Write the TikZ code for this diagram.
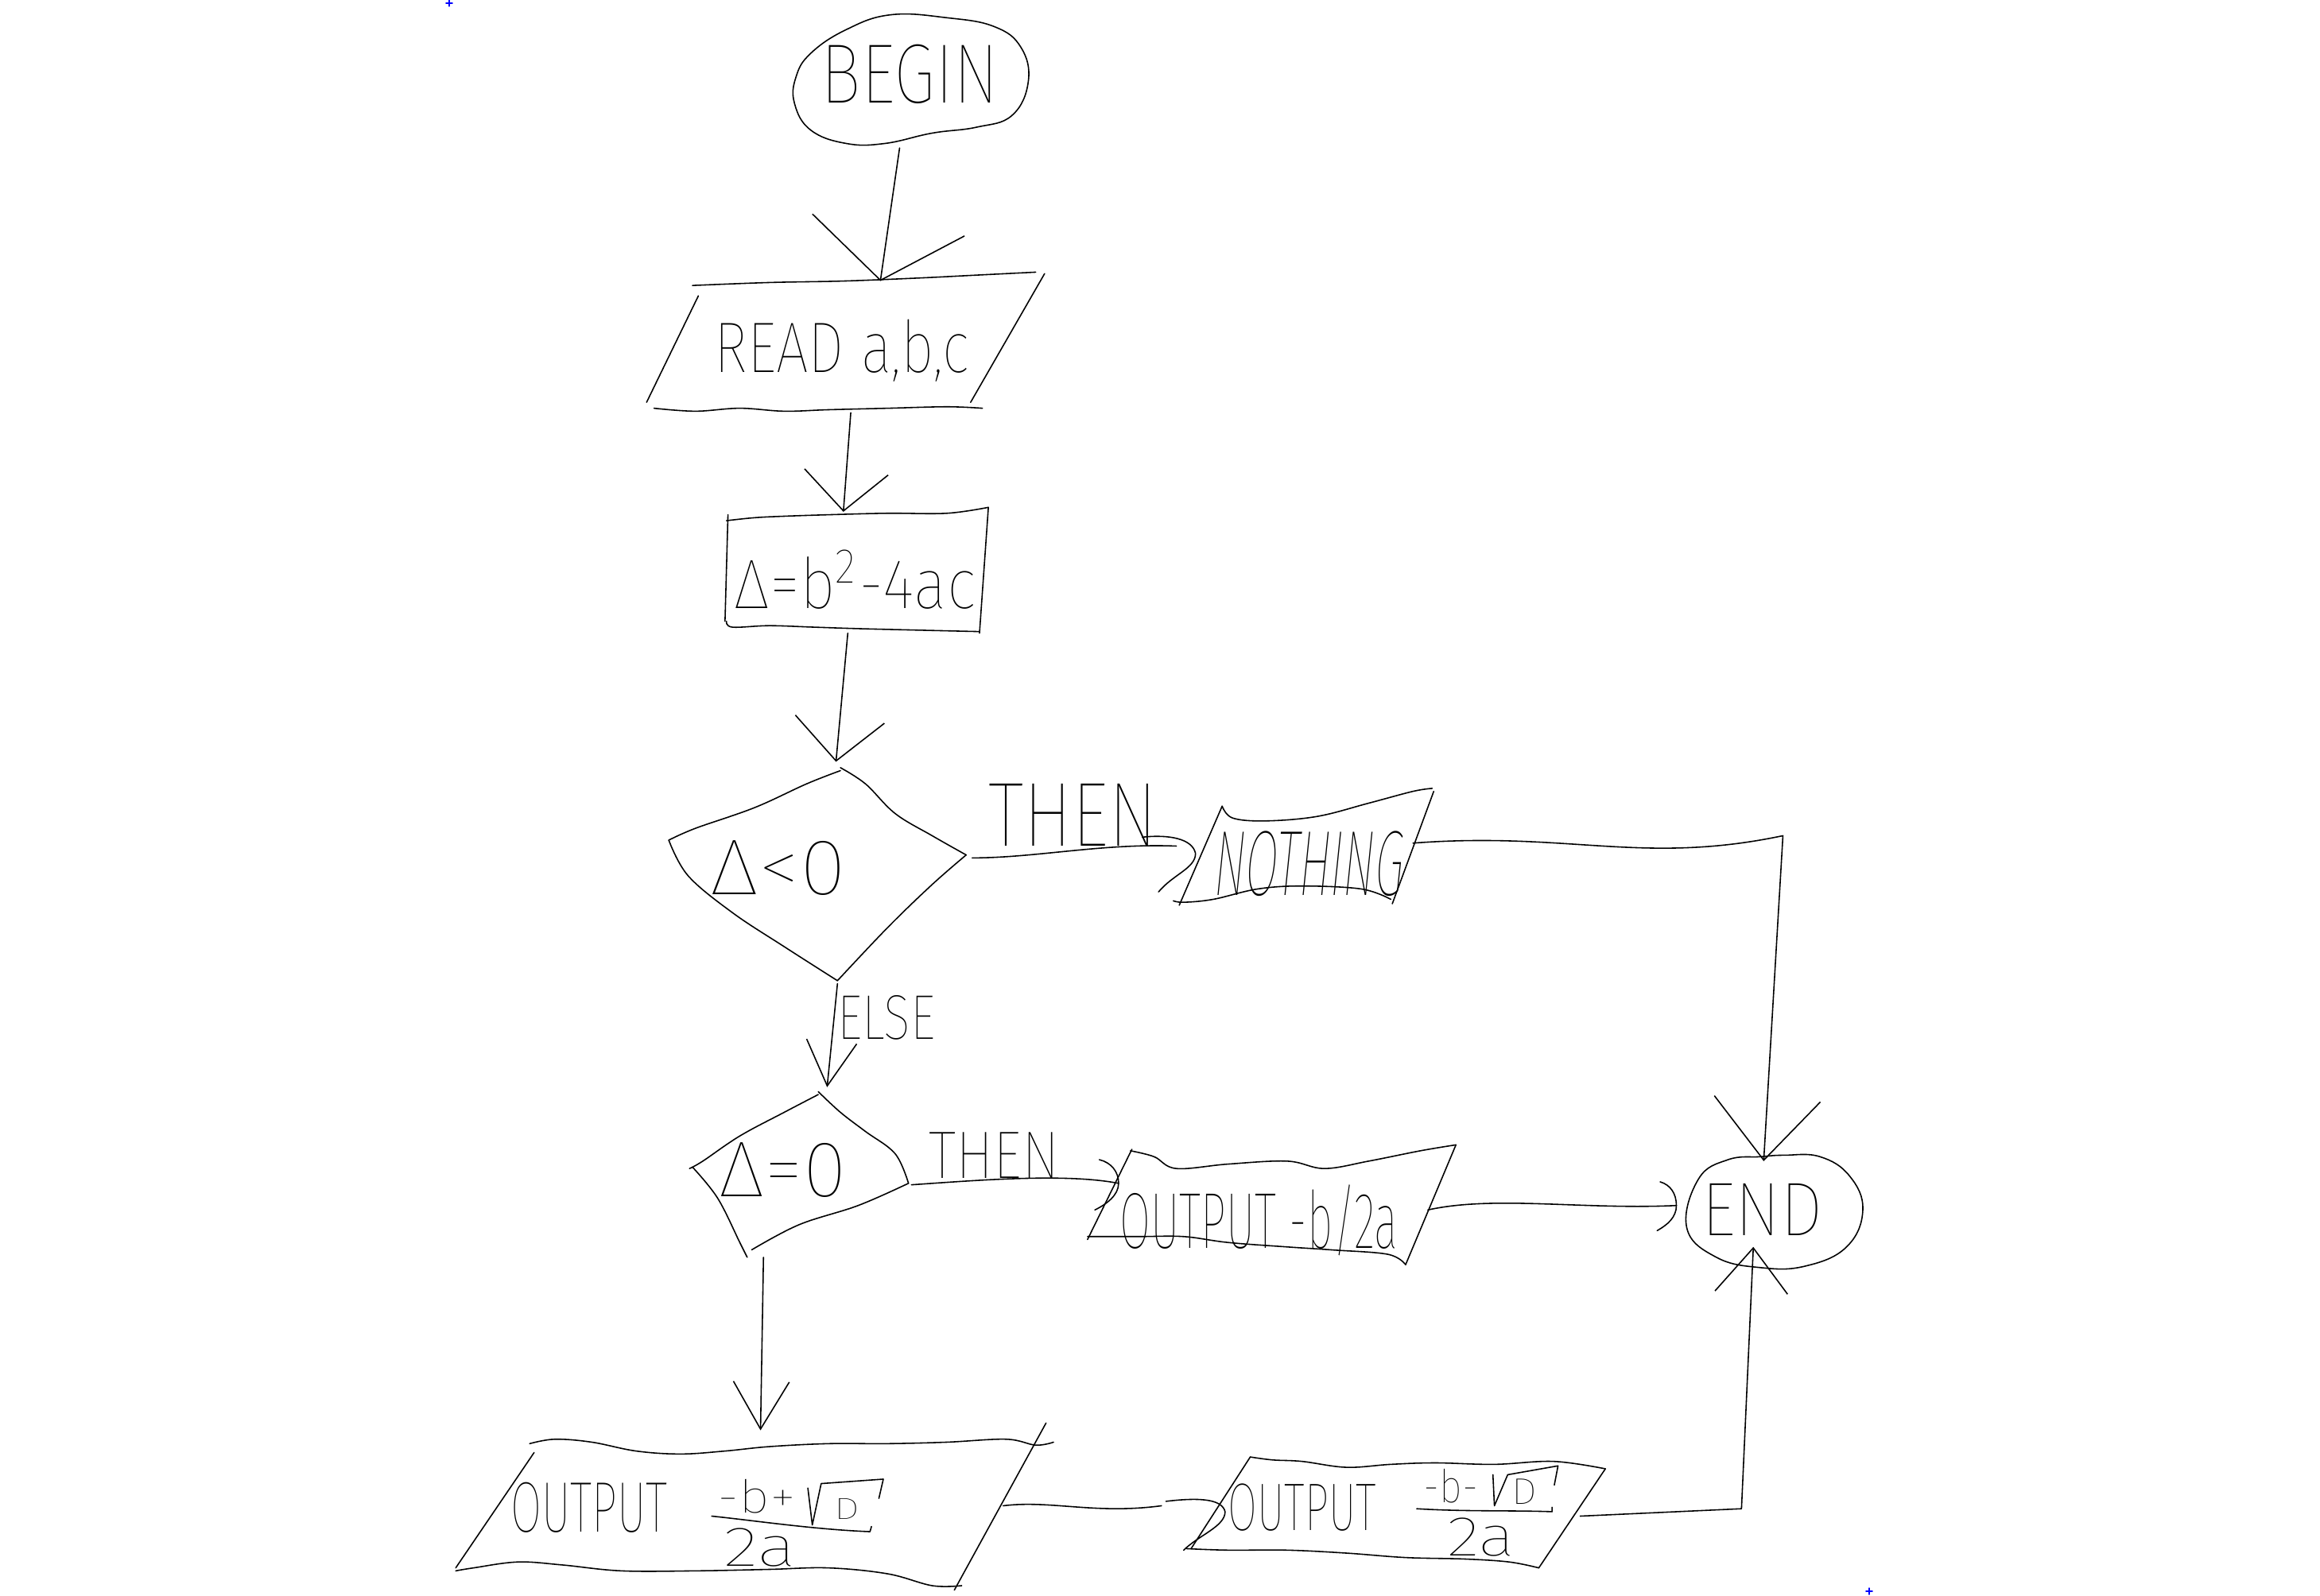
\documentclass[tikz,border=0pt]{standalone}
\usepackage{graphicx}
\usepackage{fontspec}
\usetikzlibrary{arrows.meta}
% thin lettering face: lightest weight that is available
\newcommand\pickhand[2]{\IfFontExistsTF{#1}%
  {\newfontfamily\hand{#1}\newfontfamily\handsl{#1}[FakeSlant=0.2]}{#2}}
\pickhand{Fira Sans Thin}{%
 \pickhand{Fira Sans ExtraLight}{%
  \pickhand{Fira Sans Light}{%
   \pickhand{Lato Hairline}{%
    \pickhand{Lato Light}{%
     \pickhand{DejaVu Sans ExtraLight}{%
      \pickhand{DejaVu Sans}{}}}}}}}
% one drawing unit
\newlength\upx \setlength\upx{0.01861cm}
% lettering squeezed into a given box (width, total height)
\newcommand{\hw}[3]{\resizebox*{#1\upx}{#2\upx}{\hand #3}}
\begin{document}
\begin{tikzpicture}[x=0.01861cm, y=-0.01861cm,
  line width=0.45pt, line join=round, line cap=round,
  txt/.style={inner sep=0pt, outer sep=0pt},
  barb/.style 2 args={-{Straight Barb[length=#1, width=#2, line width=0.45pt]}},
  stroke/.style={smooth, tension=0.6}]

\fill[white] (0,0) rectangle (1568,1079);
\useasboundingbox (0,0) rectangle (1568,1079);

% ---------- outlines ----------
% BEGIN terminal
\draw plot[smooth cycle, tension=0.7] coordinates {(548,36) (572,20) (602,10) (640,12) (672,18) (690,32) (695,55) (684,78) (660,86) (630,90) (598,97) (572,97) (548,88) (537,70) (538,52)};

% READ a,b,c
\draw plot[stroke] coordinates {(468,193) (520,191) (570,190) (620,188) (660,186) (700,184)};
\draw (706,185) -- (656,272);
\draw (472,200) -- (437,272);
\draw plot[stroke] coordinates {(442,276) (470,278) (500,276) (530,278) (560,277) (600,276) (640,275) (664,276)};

% assignment box
\draw plot[stroke] coordinates {(491,352) (510,350) (530,349) (560,348) (600,347) (640,347) (668,343)};
\draw (668,343) -- (662,428);
\draw plot[stroke] coordinates {(491,420) (495,424) (520,423) (550,424) (580,425) (620,426) (662,427)};
\draw (492,348) -- (490,420);

% first decision
\draw plot[stroke] coordinates {(568,521) (545,530) (510,546) (470,560) (452,568)};
\draw plot[stroke] coordinates {(452,568) (465,592) (495,617) (530,640) (566,663)};
\draw plot[stroke] coordinates {(566,663) (600,627) (630,598) (653,578)};
\draw plot[stroke] coordinates {(653,578) (630,565) (605,550) (585,530) (568,519)};

% second decision
\draw plot[stroke] coordinates {(553,740) (530,752) (500,768) (475,785) (466,790)};
\draw plot[stroke] coordinates {(468,789) (485,810) (500,840) (505,850)};
\draw plot[stroke] coordinates {(508,845) (540,828) (580,815) (614,800)};
\draw plot[stroke] coordinates {(614,800) (605,780) (585,765) (568,752) (553,738)};

% NOTHING
\draw plot[stroke] coordinates {(826,545) (833,553) (855,555) (890,552) (925,543) (955,535) (968,533)};
\draw (969,535) -- (941,611);
\draw plot[stroke] coordinates {(940,608) (920,601) (880,599) (850,601) (820,608) (800,610) (793,609)};
\draw (797,612) -- (826,545);

% OUTPUT -b/2a
\draw plot[stroke] coordinates {(764,778) (780,782) (795,790) (830,787) (870,785) (895,790) (925,785) (960,778) (984,774)};
\draw (984,774) -- (950,855);
\draw plot[stroke] coordinates {(950,855) (938,848) (900,845) (870,843) (830,840) (800,836) (770,836) (735,836)};
\draw (735,838) -- (765,777);

% END terminal
\draw plot[smooth cycle, tension=0.7] coordinates {(1148,797) (1168,784) (1190,782) (1206,781) (1230,782) (1250,795) (1259,818) (1248,843) (1220,856) (1190,857) (1160,850) (1140,830)};

% OUTPUT (-b+sqrt D)/2a
\draw plot[stroke] coordinates {(358,976) (375,973) (400,975) (430,981) (460,983) (490,981) (520,978) (560,976) (600,976) (640,975) (680,973) (700,977) (712,975)};
\draw (707,962) -- (645,1075);
\draw (361,982) -- (308,1060);
\draw plot[stroke] coordinates {(308,1062) (320,1060) (350,1056) (380,1058) (420,1062) (470,1062) (520,1061) (560,1060) (600,1064) (630,1072) (650,1072)};

% OUTPUT (-b-sqrt D)/2a
\draw plot[stroke] coordinates {(845,985) (860,987) (880,988) (910,992) (940,990) (970,989) (1010,990) (1050,988) (1085,993)};
\draw (1085,993) -- (1040,1060);
\draw (845,985) -- (805,1047);
\draw plot[stroke] coordinates {(802,1047) (830,1048) (870,1048) (910,1050) (950,1053) (990,1054) (1020,1056) (1040,1060)};

% ---------- texts ----------
\node[txt] (begin) at (615,50) {\hw{120}{40}{BEGIN}};
\node[txt] (read) at (569,237) {\hw{172}{42}{READ a,b,c}};
\node[txt] (dbox) at (578,392) {\hw{163}{40}{Δ=b\textsuperscript{2}-4ac}};
\node[txt] (dlt) at (526,587) {\hw{92}{37}{Δ<0}};
\node[txt] (noth) at (883,584) {\resizebox*{128\upx}{44\upx}{\handsl NOTHING}};
\node[txt] (deq) at (529,791) {\hw{86}{37}{Δ=0}};
\node[txt] (out1) at (851,825) {\hw{188}{48}{OUTPUT -b/2a}};
\node[txt] (end) at (1191,818) {\hw{82}{35}{END}};
\node[txt] (then1) at (725,551) {\hw{114}{42}{THEN}};
\node[txt] (else) at (599,688) {\hw{66}{30}{ELSE}};
\node[txt] (then2) at (672,781) {\hw{88}{31}{THEN}};

% OUTPUT with the first root
\node[txt] (out2) at (398,1019) {\hw{106}{34}{OUTPUT}};
\node[txt] (out2n) at (511.5,1011.5) {\hw{53}{23}{-b+}};
\node[txt] (out2r) at (572.5,1020) {\hw{17}{14}{D}};
\draw (546,1006) -- (549,1031) -- (555,1003) -- (597,1000) -- (594,1013);
\draw (481,1025) .. controls (510,1028) and (550,1034) .. (588,1035.5) -- (589,1032);
\node[txt] (out2d) at (513.5,1046) {\hw{49}{26}{2a}};

% OUTPUT with the second root
\node[txt] (out3) at (880,1019) {\hw{100}{32}{OUTPUT}};
\node[txt] (out3n) at (980.5,1004.5) {\hw{37}{23}{-b-}};
\node[txt] (out3r) at (1030.5,1008.5) {\hw{17}{17}{D}};
\draw (1009,997) -- (1010,1018) -- (1019,997) -- (1053,991) -- (1050.5,1004);
\draw (957.5,1020) .. controls (990,1022) and (1020,1021) .. (1049,1022) -- (1049,1019);
\node[txt] (out3d) at (1001,1039) {\hw{46}{26}{2a}};

% ---------- connector ends ----------
\coordinate (begin-s) at (608,100);
\coordinate (read-n) at (595,190);
\coordinate (read-s) at (575,279);
\coordinate (dbox-n) at (570,346);
\coordinate (dbox-s) at (573,428);
\coordinate (dlt-n) at (565,515);
\coordinate (dlt-e) at (657,580);
\coordinate (dlt-s) at (566,665);
\coordinate (noth-w) at (808,577);
\coordinate (noth-e) at (955,570);
\coordinate (deq-n) at (559,735);
\coordinate (deq-e) at (616,801);
\coordinate (deq-s) at (516,850);
\coordinate (out1-w) at (756,800);
\coordinate (out1-e) at (965,818);
\coordinate (end-w) at (1133,815);
\coordinate (end-n) at (1192,785);
\coordinate (end-s) at (1185,843);
\coordinate (out2-n) at (514,967);
\coordinate (out2-e) at (678,1018);
\coordinate (out3-w) at (828,1022);
\coordinate (out3-e) at (1068,1025);
\coordinate (bend1) at (1205,565);
\coordinate (bend2) at (1177,1020);

% ---------- connectors ----------
\draw[barb={20pt}{55pt}] (begin-s) -- (read-n);
\draw[barb={14pt}{30pt}] (read-s) -- (dbox-n);
\draw[barb={15pt}{32pt}] (dbox-s) -- (dlt-n);
\draw[barb={16pt}{18pt}] (dlt-s) -- (deq-n);
\draw[barb={22pt}{38pt}] (noth-e) .. controls (1060,562) and (1110,585) .. (bend1) -- (end-n);
\draw[barb={17pt}{20pt}] (deq-s) -- (out2-n);
\draw[barb={16pt}{26pt}] (out3-e) -- (bend2) -- (end-s);

% connectors ending in a curved head
\draw (dlt-e) .. controls (700,580) and (745,570) .. (795,572);
\draw (noth-w) ++(-36,-11) .. controls +(18,-2) and +(-2,-10) .. (noth-w)
      .. controls +(0,10) and +(10,-12) .. ++(-25,26);
\draw (deq-e) .. controls (660,798) and (720,793) .. (out1-w);
\draw (out1-w) ++(-13,-16) .. controls +(8,2) and +(0,-8) .. (out1-w)
      .. controls +(0,8) and +(8,-4) .. ++(-16,18);
\draw (out1-e) .. controls (1010,808) and (1070,818) .. (end-w);
\draw (end-w) ++(-11,-16) .. controls +(7,2) and +(0,-8) .. (end-w)
      .. controls +(0,8) and +(7,-4) .. ++(-13,17);
\draw (out2-e) .. controls (710,1014) and (740,1024) .. (785,1018);
\draw (out3-w) ++(-40,-7) .. controls +(25,-3) and +(-2,-8) .. (out3-w)
      .. controls +(0,10) and +(10,-10) .. ++(-28,26);

% two stray pen marks
\draw[blue, line width=0.5pt] (301.5,2.1) -- (305.7,2.1) (303.6,0) -- (303.6,4.2);
\draw[blue, line width=0.5pt] (1261.2,1075.8) -- (1265.4,1075.8) (1263.3,1073.7) -- (1263.3,1077.9);
\end{tikzpicture}
\end{document}
